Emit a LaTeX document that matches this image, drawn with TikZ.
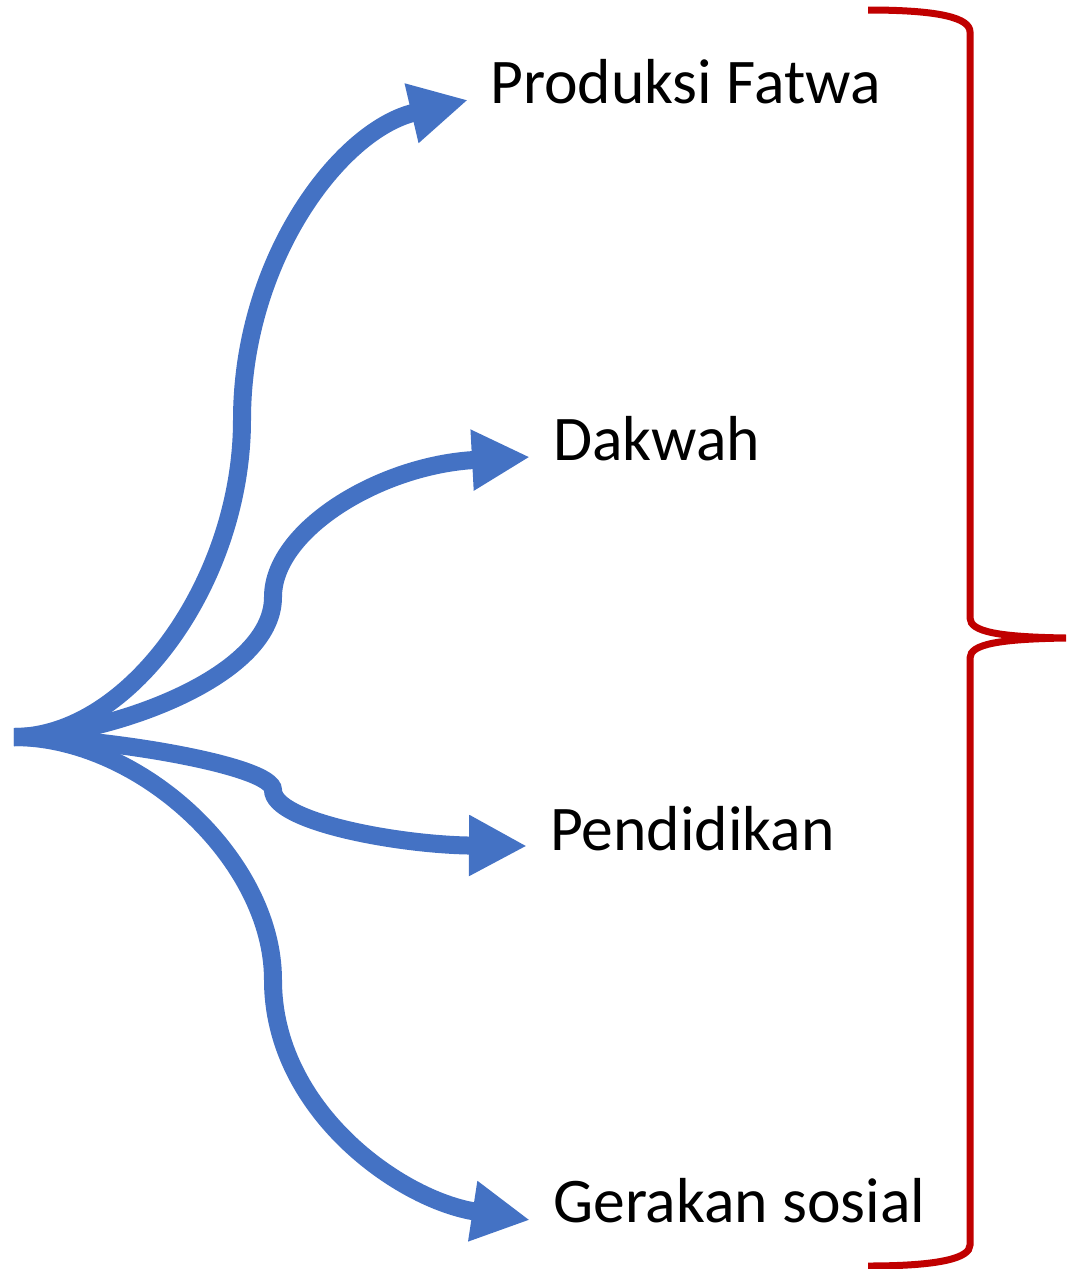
\documentclass[tikz,border=0pt]{standalone}
\usepackage{fontspec}
\setmainfont{Carlito}
\usetikzlibrary{arrows.meta}
\definecolor{flowblue}{HTML}{4472C4}
\definecolor{bracered}{HTML}{C00000}
\begin{document}
\begin{tikzpicture}[x=1pt,y=-1pt,
  flow/.style={draw=flowblue,line width=18pt,-{Triangle[length=58pt,width=57pt]}},
  label/.style={anchor=base west,inner sep=0pt,font=\fontsize{63.6}{76}\selectfont},
  brace/.style={draw=bracered,line width=7pt}]
\useasboundingbox (0,0) rectangle (1066,1269);
\coordinate (src) at (14,737);
\node[label] (t1) at (490,103) {Produksi Fatwa};
\node[label] (t2) at (553,460) {Dakwah};
\node[label] (t3) at (550,850) {Pendidikan};
\node[label] (t4) at (553,1222) {Gerakan sosial};
\coordinate (e1) at (468,100);
\coordinate (e2) at (530,457);
\coordinate (e3) at (527,846);
\coordinate (e4) at (530,1220);
\draw[flow] (src) .. controls (130,737) and (242,580) .. (242,420) .. controls (242,260) and (340,130) .. (e1);
\draw[flow] (src) .. controls (100,737) and (273,680) .. (273,597) .. controls (273,530) and (380,465) .. (e2);
\draw[flow] (src) .. controls (100,737) and (273,765) .. (273,790) .. controls (273,822) and (400,845) .. (e3);
\draw[flow] (src) .. controls (140,737) and (273,860) .. (273,980) .. controls (273,1110) and (400,1200) .. (e4);
\coordinate (b1) at (868,10);
\coordinate (bt) at (1066,638);
\coordinate (b2) at (868,1266);
\draw[brace] (b1) .. controls (940,10) and (970,18) .. (970,32) -- (970,618) .. controls (970,632) and (1000,637) .. (bt)
  .. controls (1000,639) and (970,644) .. (970,658) -- (970,1245) .. controls (970,1258) and (940,1266) .. (b2);
\end{tikzpicture}
\end{document}
